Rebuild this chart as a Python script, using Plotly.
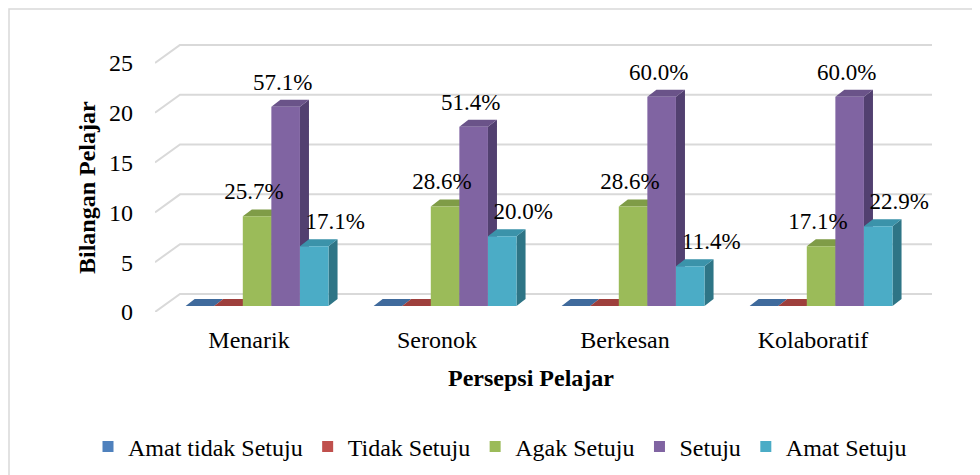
import plotly.graph_objects as go

# ---------------- data ----------------
categories = ["Menarik", "Seronok", "Berkesan", "Kolaboratif"]
series_names = ["Amat tidak Setuju", "Tidak Setuju", "Agak Setuju", "Setuju", "Amat Setuju"]
amat_tidak_setuju = [0, 0, 0, 0]
tidak_setuju = [0, 0, 0, 0]
agak_setuju = [9, 10, 10, 6]
setuju = [20, 18, 21, 21]
amat_setuju = [6, 7, 4, 8]
y_tick_values = [0, 5, 10, 15, 20, 25]

series_values = [amat_tidak_setuju, tidak_setuju, agak_setuju, setuju, amat_setuju]

# ---------------- style ----------------
FONT = "Times New Roman"
front_colors = ["#4F81BD", "#C0504D", "#9BBB59", "#8064A2", "#4BACC6"]
top_colors = ["#3F6A9C", "#9E3F3C", "#7F9C47", "#6A5389", "#3B93AA"]
side_colors = ["#2F5078", "#7A302E", "#62783A", "#524070", "#2E7586"]

# perspective (in axis units)
WALL_DX, WALL_DY = 0.133, 1.81     # depth of floor / back wall
BAR_X0, BAR_Y0 = 0.043, 0.60       # front face of bars sits behind front plane
BAR_DX, BAR_DY = 0.048, 0.70       # depth of each bar
BAR_W = 0.152
GROUP_HALF = BAR_W * len(series_names) / 2
LABEL_DY = 2.3
LABEL_DX = [0, 0, -0.016, -0.016, 0.112]

X_MIN, X_MAX = -0.5, len(categories) - 0.5 + WALL_DX
Y_MAX = 26.9

fig = go.Figure()

# gridlines (left wall diagonal + back wall)
gx, gy = [], []
for v in y_tick_values:
    gx += [X_MIN, X_MIN + WALL_DX, X_MAX, None]
    gy += [v, v + WALL_DY, v + WALL_DY, None]
fig.add_trace(go.Scatter(x=gx, y=gy, mode="lines", line=dict(color="#d9d9d9", width=2),
                         hoverinfo="skip", showlegend=False))

# 3D bars
for s, (name, vals) in enumerate(zip(series_names, series_values)):
    fx, fy, tx, ty, sx, sy = [], [], [], [], [], []
    for c, v in enumerate(vals):
        x0 = c - GROUP_HALF + s * BAR_W + BAR_X0
        x1 = x0 + BAR_W
        b = BAR_Y0
        t = b + v
        tx += [x0, x1, x1 + BAR_DX, x0 + BAR_DX, x0, None]
        ty += [t, t, t + BAR_DY, t + BAR_DY, t, None]
        if v > 0:
            fx += [x0, x1, x1, x0, x0, None]
            fy += [b, b, t, t, b, None]
            sx += [x1, x1 + BAR_DX, x1 + BAR_DX, x1, x1, None]
            sy += [b, b + BAR_DY, t + BAR_DY, t, b, None]
    if sx:
        fig.add_trace(go.Scatter(x=sx, y=sy, fill="toself", fillcolor=side_colors[s], mode="lines",
                                 line=dict(width=0), hoverinfo="skip", showlegend=False))
    fig.add_trace(go.Scatter(x=tx, y=ty, fill="toself", fillcolor=top_colors[s], mode="lines",
                             line=dict(width=0), hoverinfo="skip", showlegend=False))
    if fx:
        fig.add_trace(go.Scatter(x=fx, y=fy, fill="toself", fillcolor=front_colors[s], mode="lines",
                                 line=dict(width=0), hoverinfo="skip", showlegend=False))

# data labels (percent of respondents per category)
totals = [sum(sv[c] for sv in series_values) for c in range(len(categories))]
lx, ly, lt = [], [], []
for s, vals in enumerate(series_values):
    for c, v in enumerate(vals):
        if v > 0:
            x0 = c - GROUP_HALF + s * BAR_W + BAR_X0
            lx.append(x0 + BAR_W / 2 + LABEL_DX[s])
            ly.append(v + BAR_Y0 + LABEL_DY)
            lt.append(f"{v / totals[c] * 100:.1f}%")
fig.add_trace(go.Scatter(x=lx, y=ly, text=lt, mode="text", textposition="middle center",
                         textfont=dict(family=FONT, size=23, color="#000000"),
                         hoverinfo="skip", showlegend=False, cliponaxis=False))

# legend entries
for s, name in enumerate(series_names):
    fig.add_trace(go.Scatter(x=[None], y=[None], mode="markers", name=name,
                             marker=dict(symbol="square", size=11, color=front_colors[s])))

# page has an 8px body margin; work in page pixels and convert
OFF = 8
W, H = 980 - OFF, 475 - OFF
PLOT_LEFT, PLOT_RIGHT, PLOT_TOP, PLOT_BOTTOM = 155, 932, 44, 312   # page pixels
L, R = PLOT_LEFT - OFF, W - (PLOT_RIGHT - OFF)
T, B = PLOT_TOP - OFF, H - (PLOT_BOTTOM - OFF)
PW, PH = W - L - R, H - T - B


def px_x(p):
    return (p - OFF - L) / PW


def px_y(p):
    return (H - B - (p - OFF)) / PH


fig.update_layout(
    width=W, height=H,
    margin=dict(l=L, r=R, t=T, b=B, autoexpand=False),
    paper_bgcolor="white", plot_bgcolor="white",
    font=dict(family=FONT, size=24, color="#000000"),
    xaxis=dict(range=[X_MIN, X_MAX], tickvals=list(range(len(categories))), ticktext=categories,
               showgrid=False, zeroline=False, showline=False, ticks="",
               ticklabelstandoff=11, tickfont=dict(family=FONT, size=24)),
    yaxis=dict(range=[0, Y_MAX], tickvals=y_tick_values, showgrid=False, zeroline=False,
               showline=False, ticks="", ticklabelstandoff=21, tickfont=dict(family=FONT, size=24)),
    legend=dict(orientation="h", x=px_x(88), y=px_y(447), xanchor="left", yanchor="middle",
                font=dict(family=FONT, size=24, color="#000000"), bgcolor="rgba(0,0,0,0)"),
    showlegend=True,
    annotations=[
        dict(text="<b>Persepsi Pelajar</b>", x=px_x(531), y=px_y(378), xref="paper", yref="paper",
             showarrow=False, font=dict(family=FONT, size=24), xanchor="center", yanchor="middle"),
        dict(text="<b>Bilangan Pelajar</b>", x=px_x(87), y=px_y(188), xref="paper", yref="paper",
             showarrow=False, font=dict(family=FONT, size=24), textangle=-90,
             xanchor="center", yanchor="middle"),
    ],
    shapes=[
        dict(type="rect", xref="paper", yref="paper", x0=px_x(9), y0=px_y(9), x1=px_x(1000),
             y1=px_y(500), line=dict(color="#d9d9d9", width=1.5), fillcolor="rgba(0,0,0,0)",
             layer="below"),
    ],
)

fig.write_html("out.html")
